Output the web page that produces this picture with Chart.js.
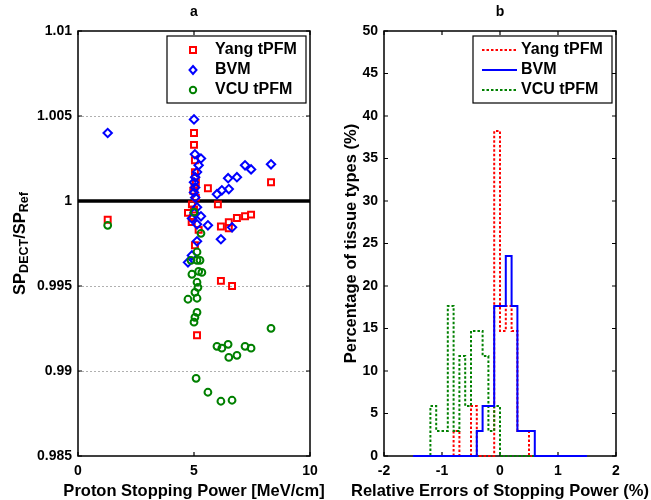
<!DOCTYPE html>
<html><head><meta charset="utf-8">
<script src="https://cdn.jsdelivr.net/npm/chart.js@4.4.0/dist/chart.umd.min.js"></script>
<style>
html,body{margin:0;padding:0;background:#fff;}
#wrap{position:relative;width:651px;height:500px;background:#fff;}
canvas{position:absolute;left:0;top:0;}
</style></head><body>
<div id="wrap"><canvas id="c1" width="651" height="500"></canvas><canvas id="c2" width="651" height="500"></canvas></div>
<script>
// ---------- data ----------
const seriesNames = ['Yang tPFM', 'BVM', 'VCU tPFM'];
const panelTitles = ['a', 'b'];
const leftXTitle = 'Proton Stopping Power [MeV/cm]';
const rightXTitle = 'Relative Errors of Stopping Power (%)';
const rightYTitle = 'Percentage of tissue types (%)';

// panel a: proton stopping power (MeV/cm) vs SP_DECT/SP_Ref
const yangSP    = [1.28, 5.00, 5.00, 5.04, 5.04, 5.08, 4.97, 5.60, 6.03, 4.91, 4.74, 4.90, 5.04, 5.20, 6.16, 6.50, 6.50, 6.85, 7.20, 7.46, 8.32, 6.16, 6.64, 5.13, 5.08, 5.00, 4.95, 5.06, 5.02];
const yangRatio = [0.9989, 1.0040, 1.0033, 1.0024, 1.0017, 1.0011, 1.0006, 1.00075, 0.9998, 0.9998, 0.9993, 0.99877, 0.9974, 0.9983, 0.9985, 0.99875, 0.9984, 0.9990, 0.9991, 0.9992, 1.0011, 0.9953, 0.9950, 0.9921, 1.0002, 0.9995, 0.9990, 1.0014, 1.0008];
const bvmSP     = [1.28, 5.00, 5.04, 5.30, 5.20, 5.13, 5.05, 5.00, 5.05, 5.00, 5.05, 5.99, 6.20, 6.50, 6.47, 6.85, 7.20, 7.46, 8.32, 5.13, 4.91, 5.30, 5.13, 5.60, 6.64, 6.16, 5.13, 4.91, 4.74, 5.02];
const bvmRatio  = [1.0040, 1.0048, 1.00275, 1.0025, 1.0021, 1.0017, 1.0014, 1.0011, 1.0008, 1.0005, 1.0002, 1.0004, 1.00063, 1.0007, 1.00134, 1.0014, 1.0021, 1.00186, 1.00216, 0.99963, 0.99898, 0.9991, 0.99863, 0.99857, 0.99845, 0.99775, 0.99763, 0.9968, 0.99639, 0.9993];
const vcuSP     = [1.28, 5.00, 5.30, 5.13, 4.87, 5.13, 5.26, 4.91, 5.20, 5.34, 5.13, 5.17, 5.04, 4.74, 5.13, 5.13, 5.04, 5.00, 8.32, 5.99, 6.20, 6.47, 6.50, 6.85, 7.20, 7.46, 5.09, 5.60, 6.16, 6.64];
const vcuRatio  = [0.99857, 0.99934, 0.9981, 0.9970, 0.99651, 0.99651, 0.99651, 0.99569, 0.99586, 0.9958, 0.99522, 0.99492, 0.99463, 0.99422, 0.99428, 0.99345, 0.99316, 0.99287, 0.99251, 0.99145, 0.99134, 0.99157, 0.9908, 0.99092, 0.99145, 0.99134, 0.98957, 0.98875, 0.98822, 0.98828];
const referenceLineX = [0, 10];
const referenceLineY = [1, 1];

const leftXTicks = [0, 5, 10];
const leftXTickLabels = ['0', '5', '10'];
const leftYTicks = [0.985, 0.99, 0.995, 1, 1.005, 1.01];
const leftYTickLabels = ['0.985', '0.99', '0.995', '1', '1.005', '1.01'];

// panel b: histogram of relative errors (%), bin edges and percentage per bin
const binEdges = [-1.5, -1.4, -1.3, -1.2, -1.1, -1.0, -0.9, -0.8, -0.7, -0.6, -0.5, -0.4, -0.3, -0.2, -0.1, 0, 0.1, 0.2, 0.3, 0.4, 0.5, 0.6, 0.7, 0.8, 0.9, 1.0, 1.1, 1.2, 1.3, 1.4, 1.5];
const yangPct = [0, 0, 0, 0, 0, 0, 0, 2.94, 0, 0, 5.88, 0, 0, 0, 38.24, 14.71, 17.65, 14.71, 2.94, 2.94, 0, 0, 0, 0, 0, 0, 0, 0, 0, 0];
const bvmPct  = [0, 0, 0, 0, 0, 0, 0, 0, 0, 0, 0, 2.94, 5.88, 5.88, 17.65, 17.65, 23.53, 17.65, 2.94, 2.94, 2.94, 0, 0, 0, 0, 0, 0, 0, 0, 0];
const vcuPct  = [0, 0, 0, 5.88, 2.94, 2.94, 17.65, 2.94, 11.76, 5.88, 14.71, 14.71, 11.76, 2.94, 5.88, 0, 0, 0, 0, 0, 0, 0, 0, 0, 0, 0, 0, 0, 0, 0];

const rightXTicks = [-2, -1, 0, 1, 2];
const rightXTickLabels = ['-2', '-1', '0', '1', '2'];
const rightYTicks = [0, 5, 10, 15, 20, 25, 30, 35, 40, 45, 50];
const rightYTickLabels = ['0', '5', '10', '15', '20', '25', '30', '35', '40', '45', '50'];

// ---------- styling ----------
const FONT = "'Liberation Sans', Arial, sans-serif";
const RED = '#ff0000', BLUE = '#0000ff', GREEN = '#008000';
const tickFont = {family: FONT, size: 14, weight: 'bold'};
const TITLE_PX = 16.5;
Chart.defaults.font.family = FONT;
Chart.defaults.color = '#000';

function pts(xs, ys) { return xs.map((x, i) => ({x: x, y: ys[i]})); }
function hist(edges, pct) { return edges.map((e, i) => ({x: e, y: i < pct.length ? pct[i] : 0})); }

function drawFrame(chart, xt, yt) {
  const {ctx, chartArea: a, scales: {x, y}} = chart;
  ctx.save();
  ctx.setLineDash([]);
  ctx.strokeStyle = '#000';
  ctx.lineWidth = 1.5;
  ctx.strokeRect(a.left, a.top, a.right - a.left, a.bottom - a.top);
  ctx.lineWidth = 1.2;
  const L = 4;
  ctx.beginPath();
  xt.forEach(v => {
    const px = x.getPixelForValue(v);
    ctx.moveTo(px, a.bottom); ctx.lineTo(px, a.bottom - L);
    ctx.moveTo(px, a.top); ctx.lineTo(px, a.top + L);
  });
  yt.forEach(v => {
    const py = y.getPixelForValue(v);
    ctx.moveTo(a.left, py); ctx.lineTo(a.left + L, py);
    ctx.moveTo(a.right, py); ctx.lineTo(a.right - L, py);
  });
  ctx.stroke();
  ctx.restore();
}

function drawPanelTitle(chart, text) {
  const {ctx, chartArea: a} = chart;
  ctx.save();
  ctx.fillStyle = '#000';
  ctx.font = 'bold 14px ' + FONT;
  ctx.textAlign = 'center';
  ctx.textBaseline = 'middle';
  ctx.fillText(text, (a.left + a.right) / 2, 12);
  ctx.restore();
}

function drawXTitle(chart, text) {
  const {ctx, chartArea: a} = chart;
  ctx.save();
  ctx.fillStyle = '#000';
  ctx.font = 'bold ' + TITLE_PX + 'px ' + FONT;
  ctx.textAlign = 'center';
  ctx.textBaseline = 'middle';
  ctx.fillText(text, (a.left + a.right) / 2, 491);
  ctx.restore();
}

function drawRotatedParts(ctx, cx, cy, parts) {
  ctx.save();
  ctx.translate(cx, cy);
  ctx.rotate(-Math.PI / 2);
  ctx.fillStyle = '#000';
  ctx.textBaseline = 'alphabetic';
  ctx.textAlign = 'left';
  let total = 0;
  parts.forEach(p => { ctx.font = 'bold ' + (p.sub ? 12.5 : TITLE_PX) + 'px ' + FONT; p.w = ctx.measureText(p.t).width; total += p.w; });
  let x = -total / 2;
  parts.forEach(p => {
    ctx.font = 'bold ' + (p.sub ? 12.5 : TITLE_PX) + 'px ' + FONT;
    ctx.fillText(p.t, x, p.sub ? 9 : 5.5);
    x += p.w;
  });
  ctx.restore();
}

function legendBox(ctx, x0, y0, x1, y1) {
  ctx.save();
  ctx.fillStyle = '#fff';
  ctx.fillRect(x0, y0, x1 - x0, y1 - y0);
  ctx.strokeStyle = '#000';
  ctx.lineWidth = 1.2;
  ctx.setLineDash([]);
  ctx.strokeRect(x0, y0, x1 - x0, y1 - y0);
  ctx.restore();
}
function legendText(ctx, t, x, y) {
  ctx.save();
  ctx.fillStyle = '#000';
  ctx.font = 'bold 16px ' + FONT;
  ctx.textAlign = 'left';
  ctx.textBaseline = 'middle';
  ctx.fillText(t, x, y);
  ctx.restore();
}

// ---------- panel a ----------
const leftDecor = {
  id: 'leftDecor',
  beforeDatasetsDraw(chart) {
    const {ctx, chartArea: a, scales: {y}} = chart;
    ctx.save();
    ctx.strokeStyle = '#b0b0b0';
    ctx.lineWidth = 1;
    ctx.setLineDash([2, 2]);
    leftYTicks.forEach(v => {
      if (v <= y.min || v >= y.max) return;
      const py = Math.round(y.getPixelForValue(v)) + 0.5;
      ctx.beginPath(); ctx.moveTo(a.left, py); ctx.lineTo(a.right, py); ctx.stroke();
    });
    ctx.restore();
  },
  afterDraw(chart) {
    const ctx = chart.ctx;
    drawFrame(chart, leftXTicks, leftYTicks);
    drawPanelTitle(chart, panelTitles[0]);
    drawXTitle(chart, leftXTitle);
    drawRotatedParts(ctx, 19, (chart.chartArea.top + chart.chartArea.bottom) / 2,
      [{t: 'SP'}, {t: 'DECT', sub: true}, {t: '/SP'}, {t: 'Ref', sub: true}]);
    // legend
    legendBox(ctx, 167, 36, 306, 103);
    const mx = 193, rows = [50, 70, 90];
    ctx.save();
    ctx.lineWidth = 2;
    ctx.setLineDash([]);
    ctx.strokeStyle = RED; ctx.strokeRect(mx - 3, rows[0] - 3, 6, 6);
    ctx.strokeStyle = BLUE; ctx.beginPath();
    ctx.moveTo(mx, rows[1] - 4); ctx.lineTo(mx + 3.5, rows[1]); ctx.lineTo(mx, rows[1] + 4); ctx.lineTo(mx - 3.5, rows[1]); ctx.closePath(); ctx.stroke();
    ctx.strokeStyle = GREEN; ctx.beginPath(); ctx.arc(mx, rows[2], 3.2, 0, Math.PI * 2); ctx.stroke();
    ctx.restore();
    seriesNames.forEach((n, i) => legendText(ctx, n, 215, rows[i]));
  }
};

new Chart(document.getElementById('c1'), {
  type: 'scatter',
  data: {
    datasets: [
      {label: seriesNames[0], data: pts(yangSP, yangRatio), pointStyle: 'rect', pointRadius: 4.2, pointBorderWidth: 2,
       pointBorderColor: RED, pointBackgroundColor: 'rgba(0,0,0,0)', borderColor: RED, order: 3},
      {label: seriesNames[1], data: pts(bvmSP, bvmRatio), pointStyle: 'rectRot', pointRadius: 4.2, pointBorderWidth: 2,
       pointBorderColor: BLUE, pointBackgroundColor: 'rgba(0,0,0,0)', borderColor: BLUE, order: 2},
      {label: seriesNames[2], data: pts(vcuSP, vcuRatio), pointStyle: 'circle', pointRadius: 3.4, pointBorderWidth: 2,
       pointBorderColor: GREEN, pointBackgroundColor: 'rgba(0,0,0,0)', borderColor: GREEN, order: 1},
      {label: 'ref', data: pts(referenceLineX, referenceLineY), showLine: true, borderColor: '#000', borderWidth: 3.5,
       pointRadius: 0, order: 5}
    ]
  },
  options: {
    responsive: false, animation: false, devicePixelRatio: 1, events: [],
    layout: {padding: {left: 0, right: 341, top: 31, bottom: 0}},
    plugins: {legend: {display: false}, tooltip: {enabled: false}, title: {display: false}},
    scales: {
      x: {type: 'linear', min: 0, max: 10,
          afterBuildTicks: s => { s.ticks = leftXTicks.map(v => ({value: v})); },
          afterFit: s => { s.height = 44; },
          ticks: {callback: (v, i) => leftXTickLabels[i], font: tickFont, color: '#000', padding: 7, maxRotation: 0, autoSkip: false},
          grid: {display: false, drawTicks: false}, border: {display: false}},
      y: {type: 'linear', min: 0.985, max: 1.01,
          afterBuildTicks: s => { s.ticks = leftYTicks.map(v => ({value: v})); },
          afterFit: s => { s.width = 78; },
          ticks: {callback: (v, i) => leftYTickLabels[i], font: tickFont, color: '#000', padding: 6, autoSkip: false},
          grid: {display: false, drawTicks: false}, border: {display: false}}
    }
  },
  plugins: [leftDecor]
});

// ---------- panel b ----------
const rightDecor = {
  id: 'rightDecor',
  beforeDatasetsDraw(chart) {
    drawFrame(chart, rightXTicks, rightYTicks);
  },
  afterDraw(chart) {
    const ctx = chart.ctx;
    drawPanelTitle(chart, panelTitles[1]);
    drawXTitle(chart, rightXTitle);
    drawRotatedParts(ctx, 350, (chart.chartArea.top + chart.chartArea.bottom) / 2, [{t: rightYTitle}]);
    legendBox(ctx, 473, 36, 612, 103);
    const rows = [50, 70, 90];
    const styles = [[RED, [2.5, 2]], [BLUE, []], [GREEN, [2.5, 2]]];
    ctx.save();
    ctx.lineWidth = 2;
    styles.forEach((s, i) => {
      ctx.strokeStyle = s[0]; ctx.setLineDash(s[1]);
      ctx.beginPath(); ctx.moveTo(482, rows[i]); ctx.lineTo(517, rows[i]); ctx.stroke();
    });
    ctx.restore();
    seriesNames.forEach((n, i) => legendText(ctx, n, 521, rows[i]));
  }
};

new Chart(document.getElementById('c2'), {
  type: 'line',
  data: {
    datasets: [
      {label: seriesNames[0], data: hist(binEdges, yangPct), stepped: 'before', borderColor: RED, borderWidth: 2,
       borderDash: [2.5, 2], pointRadius: 0, fill: false, clip: false, order: 3},
      {label: seriesNames[1], data: hist(binEdges, bvmPct), stepped: 'before', borderColor: BLUE, borderWidth: 2,
       pointRadius: 0, fill: false, clip: false, order: 1},
      {label: seriesNames[2], data: hist(binEdges, vcuPct), stepped: 'before', borderColor: GREEN, borderWidth: 2,
       borderDash: [2.5, 2], pointRadius: 0, fill: false, clip: false, order: 2}
    ]
  },
  options: {
    responsive: false, animation: false, devicePixelRatio: 1, events: [],
    layout: {padding: {left: 0, right: 35, top: 31, bottom: 0}},
    plugins: {legend: {display: false}, tooltip: {enabled: false}, title: {display: false}},
    scales: {
      x: {type: 'linear', min: -2, max: 2,
          afterBuildTicks: s => { s.ticks = rightXTicks.map(v => ({value: v})); },
          afterFit: s => { s.height = 44; },
          ticks: {callback: (v, i) => rightXTickLabels[i], font: tickFont, color: '#000', padding: 7, maxRotation: 0, autoSkip: false},
          grid: {display: false, drawTicks: false}, border: {display: false}},
      y: {type: 'linear', min: 0, max: 50,
          afterBuildTicks: s => { s.ticks = rightYTicks.map(v => ({value: v})); },
          afterFit: s => { s.width = 384; },
          ticks: {callback: (v, i) => rightYTickLabels[i], font: tickFont, color: '#000', padding: 6, autoSkip: false},
          grid: {display: false, drawTicks: false}, border: {display: false}}
    }
  },
  plugins: [rightDecor]
});
</script>
</body></html>
